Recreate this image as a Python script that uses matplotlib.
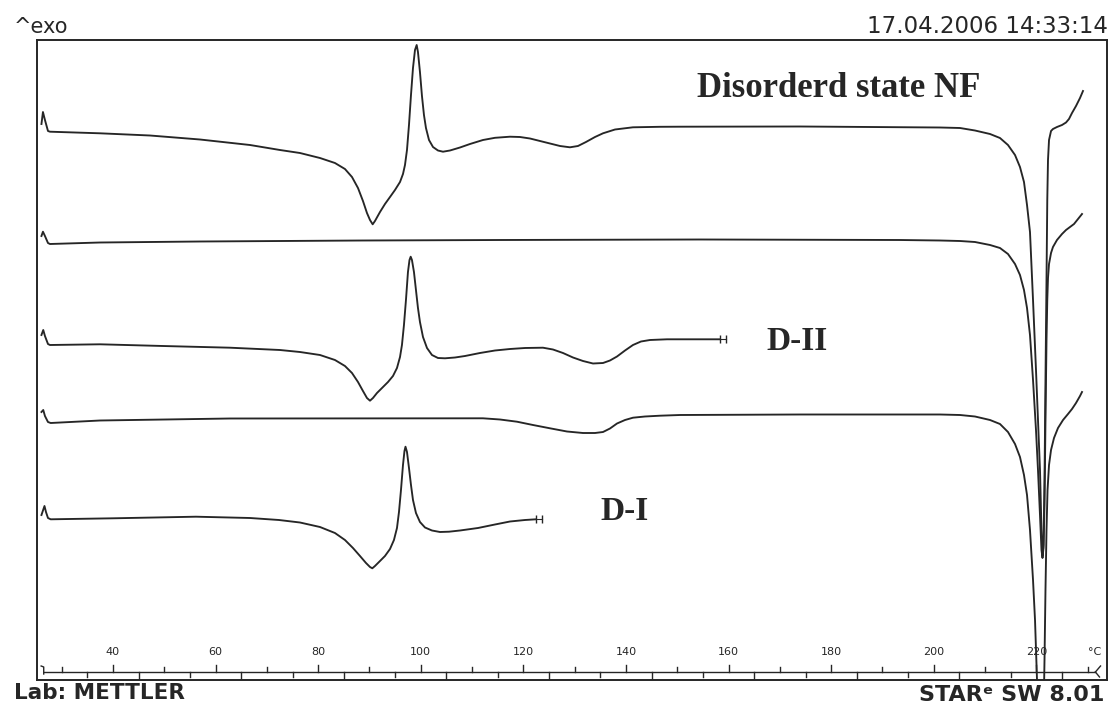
import matplotlib.pyplot as plt

# DSC curves (temperature in degC, heat flow in arbitrary units, curves stacked)
nf_temp = [26.06, 26.35, 26.74, 27.33, 27.72, 37.47, 47.21, 56.96, 66.71, 72.55, 76.45, 80.35,
           83.27, 85.22, 86.59, 87.76, 88.73, 89.51, 90.10, 90.62, 91.07, 92.05, 93.02, 94.00,
           94.97, 95.95, 96.53, 96.92, 97.31, 97.70, 98.09, 98.48, 98.87, 99.20, 99.45, 99.84,
           100.23, 100.62, 101.01, 101.60, 102.38, 103.35, 104.33, 105.69, 107.64, 109.59,
           112.12, 114.46, 117.39, 119.34, 121.29, 123.24, 125.19, 127.14, 129.08, 130.64,
           132.20, 133.96, 135.52, 137.86, 141.36, 146.63, 150.53, 173.92, 201.21, 205.11,
           208.03, 210.96, 212.90, 214.46, 215.83, 216.80, 217.58, 218.17, 218.75, 219.34,
           219.92, 220.31, 220.70, 220.99, 221.19, 221.38, 221.58, 221.77, 221.97, 222.12,
           222.26, 222.46, 222.85, 223.23, 224.01, 224.99, 225.77, 226.35, 226.94, 227.72,
           228.50, 229.08]
nf_flow = [55.6, 56.8, 56.0, 54.9, 54.83, 54.67, 54.45, 54.05, 53.5, 53.0, 52.7, 52.2,
           51.7, 51.1, 50.3, 49.2, 47.9, 46.7, 46.0, 45.57, 45.9, 46.8, 47.6, 48.3,
           49.0, 49.8, 50.6, 51.5, 53.0, 55.5, 58.5, 61.2, 63.0, 63.5, 62.8, 60.8,
           58.4, 56.5, 55.2, 54.0, 53.3, 52.95, 52.83, 52.95, 53.25, 53.6,
           54.0, 54.22, 54.33, 54.3, 54.15, 53.9, 53.65, 53.4, 53.27, 53.4,
           53.8, 54.3, 54.67, 55.05, 55.27, 55.32, 55.33, 55.35, 55.25, 55.2,
           54.95, 54.6, 54.2, 53.5, 52.5, 51.3, 49.8, 47.5, 44.8, 38.0,
           31.0, 26.0, 21.0, 15.0, 12.4, 13.5, 20.0, 30.0, 40.0, 48.0,
           52.0, 54.0, 54.9, 55.1, 55.3, 55.5, 55.75, 56.1, 56.7, 57.4,
           58.2, 58.9]

nf2_temp = [26.06, 26.35, 26.74, 27.33, 27.72, 37.47, 56.96, 88.73, 115.44, 154.43, 193.41,
            201.21, 205.11, 208.03, 210.96, 212.90, 214.46, 215.83, 216.80, 217.58, 218.17,
            218.75, 219.34, 219.92, 220.31, 220.70, 220.99, 221.19, 221.38, 221.58, 221.77,
            221.97, 222.12, 222.26, 222.46, 222.85, 223.23, 224.01, 224.99, 225.77, 226.55,
            227.33, 228.11, 228.89]
nf2_flow = [44.4, 44.83, 44.4, 43.7, 43.6, 43.75, 43.85, 43.95, 44.0, 44.05, 44.0,
            43.95, 43.9, 43.8, 43.5, 43.2, 42.6, 41.6, 40.5, 39.0, 37.2,
            34.5, 30.0, 25.0, 21.0, 16.5, 13.0, 12.2, 13.2, 17.5, 26.0,
            34.0, 38.0, 40.2, 41.6, 42.7, 43.3, 44.0, 44.6, 45.0, 45.3,
            45.6, 46.1, 46.6]

d2_temp = [26.06, 26.41, 26.74, 27.33, 27.72, 37.47, 49.75, 62.81, 72.55, 76.45, 80.35,
           83.27, 85.22, 86.59, 87.76, 88.73, 89.51, 90.10, 90.68, 91.46, 92.44, 93.61,
           94.58, 95.36, 95.95, 96.33, 96.72, 97.11, 97.50, 97.80, 98.03, 98.28, 98.67,
           99.06, 99.45, 99.84, 100.43, 101.21, 102.18, 103.35, 104.72, 106.67, 108.62,
           111.54, 114.46, 117.39, 120.31, 123.82, 125.77, 127.72, 129.67, 131.62, 133.57,
           135.52, 136.88, 138.25, 139.81, 141.36, 142.92, 144.68, 147.99, 158.32]
d2_flow = [34.5, 35.0, 34.4, 33.6, 33.5, 33.57, 33.4, 33.23, 33.0, 32.8, 32.5,
           32.0, 31.4, 30.7, 29.8, 28.9, 28.2, 27.93, 28.2, 28.7, 29.2, 29.8,
           30.4, 31.2, 32.3, 33.5, 35.5, 38.0, 40.8, 42.0, 42.33, 42.0, 40.8,
           39.0, 37.2, 35.8, 34.3, 33.2, 32.5, 32.2, 32.17, 32.25, 32.4,
           32.7, 32.95, 33.1, 33.2, 33.23, 33.05, 32.7, 32.25, 31.9, 31.65,
           31.7, 31.95, 32.35, 32.95, 33.5, 33.85, 34.0, 34.07, 34.07]

d2b_temp = [26.06, 26.41, 26.74, 27.33, 27.86, 37.47, 62.81, 112.12, 115.44, 118.75, 121.87,
            125.19, 128.50, 131.62, 133.96, 135.52, 136.88, 138.25, 139.81, 141.36, 143.70,
            146.63, 150.53, 173.92, 201.21, 205.11, 208.03, 210.96, 212.90, 214.46, 215.83,
            216.80, 217.58, 218.17, 218.75, 219.34, 219.73, 220.12, 220.41, 220.70, 221.09,
            221.38, 221.58, 221.77, 221.97, 222.17, 222.46, 222.85, 223.43, 224.21, 225.19,
            226.16, 226.94, 227.72, 228.50, 228.89]
d2b_flow = [26.8, 27.0, 26.4, 25.8, 25.7, 25.95, 26.15, 26.17, 26.05, 25.83, 25.5,
            25.17, 24.85, 24.7, 24.7, 24.8, 25.15, 25.65, 26.0, 26.23, 26.35,
            26.43, 26.5, 26.55, 26.55, 26.5, 26.35, 26.0, 25.6, 24.8, 23.6,
            22.3, 20.5, 18.5, 15.0, 10.0, 6.0, 0.0, -6.0, -9.0, -9.0,
            -4.0, 2.0, 9.0, 15.0, 19.0, 21.5, 23.0, 24.2, 25.2, 26.0,
            26.6, 27.1, 27.7, 28.4, 28.8]

d1_temp = [26.06, 26.65, 26.94, 27.33, 27.86, 40.0, 56.18, 66.71, 72.36, 76.45, 80.35,
           83.27, 85.22, 86.78, 88.15, 89.32, 90.10, 90.55, 91.07, 92.05, 93.02, 94.00,
           94.77, 95.36, 95.75, 96.14, 96.53, 96.82, 97.02, 97.31, 97.70, 98.09, 98.48,
           99.06, 99.84, 100.82, 102.18, 103.74, 105.50, 107.64, 111.15, 114.46, 117.39,
           120.31, 122.46]
d1_flow = [16.5, 17.4, 16.8, 16.2, 16.07, 16.17, 16.33, 16.2, 16.0, 15.75, 15.3,
           14.7, 14.0, 13.2, 12.4, 11.7, 11.3, 11.17, 11.4, 11.9, 12.4, 13.1,
           14.0, 15.2, 16.8, 19.0, 21.5, 22.9, 23.33, 22.8, 21.2, 19.5, 18.0,
           16.7, 15.8, 15.25, 14.95, 14.8, 14.83, 14.95, 15.2, 15.55, 15.85,
           16.0, 16.07]

# end-of-run markers
d2_end = [158.3, 159.4]
d1_end = [122.5, 123.7]

labels = ["Disorderd state NF", "D-II", "D-I"]
label_temp = [153.8, 167.3, 135.1]
label_flow = [59.2, 33.9, 16.8]
label_size = [25, 24, 24]

tick_labels = [40, 60, 80, 100, 120, 140, 160, 180, 200, 220]

ink = "#262626"
fig = plt.figure(figsize=(11.09, 7.08), dpi=100)
ax = fig.add_axes([0.03336, 0.03955, 0.96483, 0.90395])
ax.set_xlim(25.19, 233.76)
ax.set_ylim(0, 64)
ax.set_xticks([])
ax.set_yticks([])
for s in ax.spines.values():
    s.set_linewidth(1.4)
    s.set_color(ink)

for t, f in [(nf_temp, nf_flow), (nf2_temp, nf2_flow), (d2_temp, d2_flow),
             (d2b_temp, d2b_flow), (d1_temp, d1_flow)]:
    ax.plot(t, f, color=ink, lw=1.35, solid_joinstyle="round")

ax.plot(d2_end, [d2_flow[-1]] * 2, color=ink, lw=0.8, marker="|", ms=6, mew=1.0)
ax.plot(d1_end, [d1_flow[-1]] * 2, color=ink, lw=0.8, marker="|", ms=6, mew=1.0)

for lab, t, f, fs in zip(labels, label_temp, label_flow, label_size):
    ax.text(t, f, lab, family="Liberation Serif", weight="bold", fontsize=fs,
            color=ink, ha="left", va="center")

# instrument-style temperature axis drawn inside the frame
axis_y = 0.8
ax.plot([26.5, 231.5], [axis_y, axis_y], color=ink, lw=1.0)
ax.plot([26.0, 26.5, 26.5], [axis_y + 0.6, axis_y + 0.5, axis_y - 0.2], color=ink, lw=1.0)
ax.plot([231.5, 232.5], [axis_y, axis_y + 0.6], color=ink, lw=1.0)
ax.plot([231.5, 232.3], [axis_y, axis_y - 0.5], color=ink, lw=1.0)
for t in range(30, 231, 10):
    h = 0.7 if t % 20 == 0 else 0.45
    ax.plot([t, t], [axis_y, axis_y + h], color=ink, lw=1.0)
for t in range(35, 231, 10):
    h = 0.8 if (t - 5) % 20 == 0 else 0.5
    ax.plot([t, t], [axis_y, axis_y - h], color=ink, lw=1.0)
for t in tick_labels:
    ax.text(t, 2.8, str(t), fontsize=8, color=ink, ha="center", va="center")
ax.text(231.4, 2.8, "°C", fontsize=8, color=ink, ha="center", va="center")

txt = dict(family=["DejaVu Sans"], color=ink)
fig.text(0.0126, 0.962, "^exo", fontsize=15, ha="left", va="center", **txt)
fig.text(0.999, 0.962, "17.04.2006 14:33:14", fontsize=16.5, ha="right", va="center", **txt)
fig.text(0.0126, 0.021, "Lab: METTLER", fontsize=15.5, weight="bold", ha="left", va="center", **txt)
fig.text(0.996, 0.018, "STAR\u1d49 SW 8.01", fontsize=16, weight="bold", ha="right", va="center", **txt)

fig.savefig("out.png", dpi=100, facecolor="white")
